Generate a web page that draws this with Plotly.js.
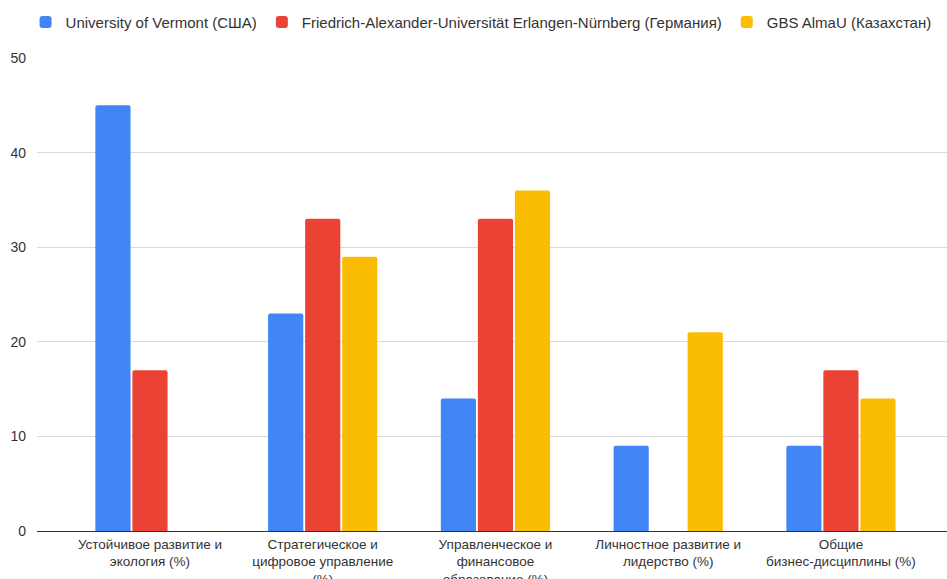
<!DOCTYPE html>
<html><head><meta charset="utf-8">
<script src="https://cdn.plot.ly/plotly-3.0.1.min.js"></script>
<style>html,body{margin:0;padding:0;background:#fff}#chart{width:947px;height:579px}</style>
</head><body><div id="chart"></div>
<script>
const categories = [
  "Устойчивое развитие и<br>экология (%)",
  "Стратегическое и<br>цифровое управление<br>(%)",
  "Управленческое и<br>финансовое<br>образование (%)",
  "Личностное развитие и<br>лидерство (%)",
  "Общие<br>бизнес-дисциплины (%)"
];
const seriesNames = ["University of Vermont (США)", "Friedrich-Alexander-Universität Erlangen-Nürnberg (Германия)", "GBS AlmaU (Казахстан)"];
const vermont = [45, 23, 14, 9, 9];
const fau = [17, 33, 33, 0, 17];
const almau = [0, 29, 36, 21, 14];
const yTicks = [0, 10, 20, 30, 40, 50];

const colors = ["#4285F4", "#EA4335", "#FBBC04"];
const font = {family: "Liberation Sans, Arial, sans-serif", size: 14, color: "#333"};
const idx = categories.map((c, i) => i);
const data = [vermont, fau, almau].map((vals, k) => ({
  type: "bar", x: idx, y: vals, name: seriesNames[k],
  marker: {color: colors[k]}, hoverinfo: "skip"
}));
const layout = {
  width: 947, height: 579,
  margin: {l: 37, r: 0, t: 58, b: 48},
  paper_bgcolor: "#fff", plot_bgcolor: "#fff",
  font: font,
  barmode: "group", bargap: 0.357, bargroupgap: 0.05, barcornerradius: 2,
  showlegend: true,
  legend: {orientation: "h", xref: "container", yref: "container", x: 0.027, y: 0.99, xanchor: "left", yanchor: "top",
           font: {family: font.family, size: 15, color: "#333"}, itemwidth: 30, tracegroupgap: 0},
  xaxis: {range: [-0.654, 4.614], tickmode: "array", tickvals: idx, ticktext: categories,
          showgrid: false, zeroline: false, showline: false, ticks: "", ticklabelstandoff: 3,
          tickfont: {size: 13.5, color: "#333"}},
  yaxis: {range: [0, 50], tickmode: "array", tickvals: yTicks, ticktext: yTicks.map(String),
          showgrid: true, gridcolor: "#d9d9d9", gridwidth: 1, zeroline: true, zerolinecolor: "#333", zerolinewidth: 1,
          showline: false, ticks: "", ticklabelstandoff: 10, tickfont: {size: 14, color: "#333"}}
};
Plotly.newPlot("chart", data, layout, {displayModeBar: false, staticPlot: true});
</script></body></html>
